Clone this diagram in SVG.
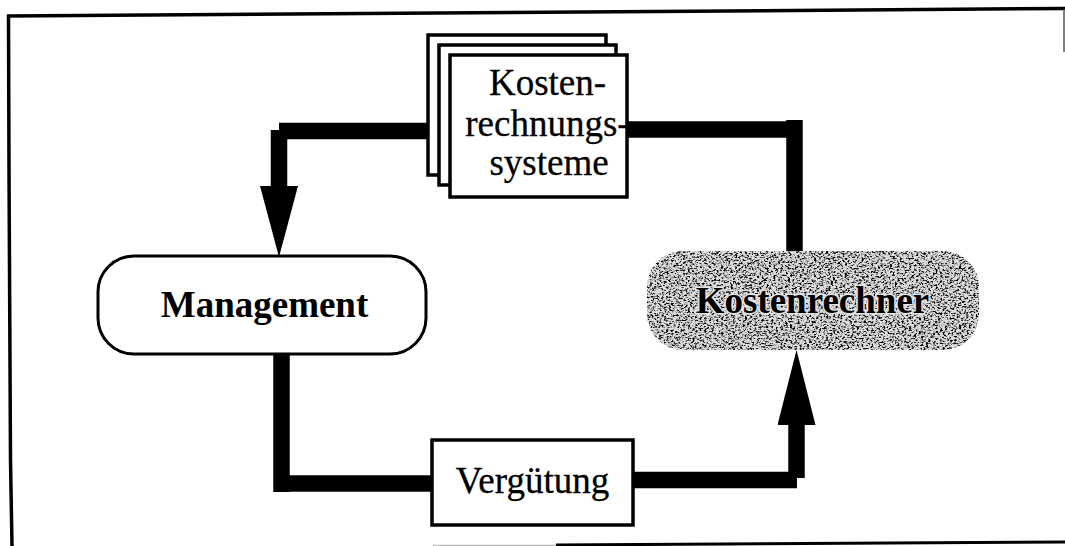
<svg xmlns="http://www.w3.org/2000/svg" width="1065" height="546" viewBox="0 0 1065 546">
<defs>
<filter id="speckle" x="0" y="0" width="100%" height="100%" color-interpolation-filters="sRGB">
<feTurbulence type="fractalNoise" baseFrequency="0.42 0.6" numOctaves="3" seed="4" result="n"/>
<feColorMatrix in="n" type="matrix" values="0 0 0 0 0  0 0 0 0 0  0 0 0 0 0  3.4 3.4 0 0 -3.3"/>
<feComposite in2="SourceAlpha" operator="in" result="dots"/>
<feFlood flood-color="#dcdcdc"/>
<feComposite in2="SourceAlpha" operator="in" result="base"/>
<feMerge><feMergeNode in="base"/><feMergeNode in="dots"/></feMerge>
</filter>
<marker id="headDown" markerUnits="userSpaceOnUse" markerWidth="71" markerHeight="38" refX="0" refY="19" orient="auto" viewBox="0 0 71 38"><path d="M0 0L71 19L0 38Z" fill="#000"/></marker>
<marker id="headUp" markerUnits="userSpaceOnUse" markerWidth="75" markerHeight="38" refX="0" refY="19" orient="auto" viewBox="0 0 75 38"><path d="M0 0L75 19L0 38Z" fill="#000"/></marker>
</defs>
<style>
.frame{stroke:#000;stroke-width:3.5;fill:none}
.box{fill:#fff;stroke:#000;stroke-width:3.5}
.term{stroke:#000;stroke-width:3}
.conn{fill:none;stroke:#000;stroke-width:16.5}
text{font-family:"Liberation Serif","Times New Roman",serif;fill:#000;text-anchor:middle}
.lbl{font-size:37px;stroke:#000;stroke-width:.3}
.bold{font-size:37px;font-weight:700}
.halo{paint-order:stroke;stroke:#e4e4e4;stroke-width:3}
</style>
<g id="frame">
<path class="frame" d="M7 16L1065 8.5"/>
<path class="frame" d="M8.5 15L9 170L10.500 460L12 546"/>
<path d="M1064 9V52" stroke="#555" stroke-width="1.5" fill="none"/>
<path class="frame" d="M556 545L1065 542" style="stroke-width:3"/>
<path d="M433 545.500H556" stroke="#bbb" stroke-width="1.500" fill="none"/>
</g>
<g id="connectors">
<path class="conn" d="M430 131H279"/>
<path class="conn" d="M279 130V186" marker-end="url(#headDown)"/>
<path class="conn" d="M625 129.500H795"/>
<path class="conn" d="M794.500 120V252"/>
<path class="conn" d="M281.500 353V492"/>
<path class="conn" d="M274 483.500H433"/>
<path class="conn" d="M632 480H797"/>
<path class="conn" d="M796.500 478V425" marker-end="url(#headUp)"/>
</g>
<g id="kostenrechnungssysteme">
<rect class="box" x="428" y="35" width="178" height="140"/>
<rect class="box" x="439" y="45" width="177" height="140"/>
<rect class="box" x="450" y="55" width="177" height="142"/>
<text class="lbl" x="547.500" y="95">Kosten-</text>
<text class="lbl" x="547.500" y="136">rechnungs-</text>
<text class="lbl" x="549" y="175">systeme</text>
</g>
<g id="management">
<rect class="term" x="98" y="256" width="328" height="98" rx="36" ry="36" fill="#fff"/>
<text class="bold" x="264.500" y="317">Management</text>
</g>
<g id="kostenrechner">
<rect x="647" y="251" width="332" height="99" rx="36" ry="36" fill="#888" filter="url(#speckle)"/>
<text class="bold halo" x="812.500" y="313">Kostenrechner</text>
</g>
<g id="verguetung">
<rect class="box" x="432" y="440" width="201" height="85"/>
<text class="lbl" x="532.500" y="493">Vergütung</text>
</g>
</svg>
